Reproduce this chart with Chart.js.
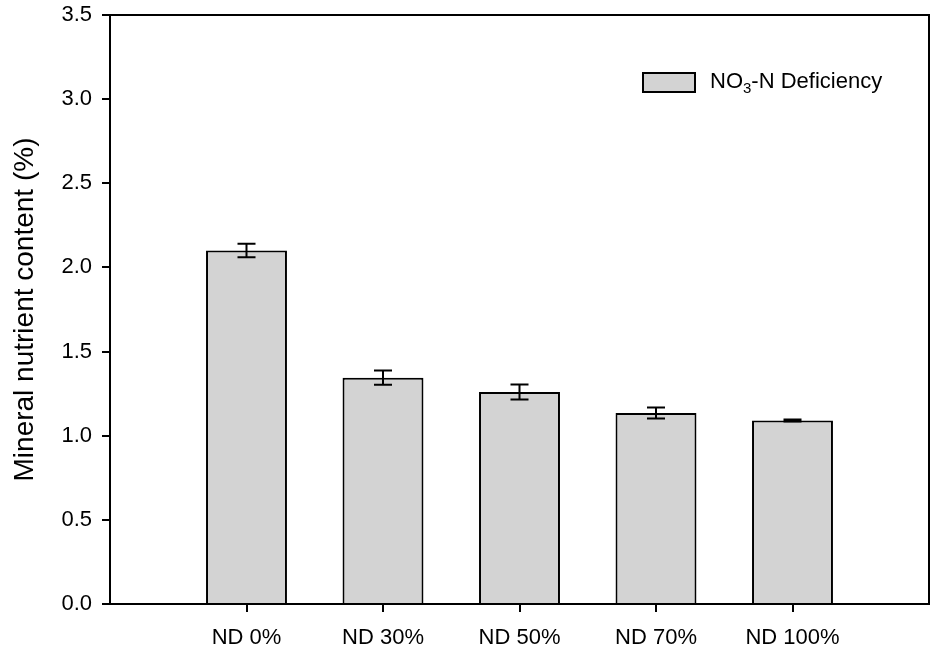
<!DOCTYPE html>
<html>
<head>
<meta charset="utf-8">
<script src="https://cdn.jsdelivr.net/npm/chart.js@4"></script>
<style>
  html, body { margin: 0; padding: 0; background: #fff; }
  #wrap { width: 941px; height: 658px; }
</style>
</head>
<body>
<div id="wrap"><canvas id="mainChart"></canvas></div>
<script>
/* ── Data ───────────────────────────────────────────────────────────────────── */
const CATEGORIES = ["ND 0%", "ND 30%", "ND 50%", "ND 70%", "ND 100%"];
const VALUES     = [2.10, 1.345, 1.26, 1.135, 1.09];
const ERRORS     = [0.04, 0.042, 0.045, 0.033, 0.006];
const Y_TICKS    = [0, 0.5, 1.0, 1.5, 2.0, 2.5, 3.0, 3.5];

const FONT = "'Liberation Sans', Arial, sans-serif";

/* ── Plugins ────────────────────────────────────────────────────────────────── */
const frameBox = {
  id: "frameBox",
  afterDraw(chart) {
    const { ctx, chartArea: a } = chart;
    ctx.save();
    ctx.strokeStyle = "#000";
    ctx.lineWidth = 2;
    ctx.beginPath();
    ctx.moveTo(a.left, a.top);
    ctx.lineTo(a.right, a.top);
    ctx.lineTo(a.right, a.bottom);
    ctx.stroke();
    ctx.restore();
  },
};

const errorBars = {
  id: "errorBars",
  afterDatasetsDraw(chart) {
    const { ctx, scales: { x, y } } = chart;
    ctx.save();
    ctx.strokeStyle = "#000";
    ctx.lineWidth = 2;
    VALUES.forEach((v, i) => {
      const px = x.getPixelForValue(i + 1);
      const top = y.getPixelForValue(v + ERRORS[i]);
      const bot = y.getPixelForValue(v - ERRORS[i]);
      ctx.beginPath();
      ctx.moveTo(px, top); ctx.lineTo(px, bot);
      ctx.moveTo(px - 9, top); ctx.lineTo(px + 9, top);
      ctx.moveTo(px - 9, bot); ctx.lineTo(px + 9, bot);
      ctx.stroke();
    });
    ctx.restore();
  },
};

// legend with a real subscript in NO3
const subLegend = {
  id: "subLegend",
  afterDraw(chart) {
    const { ctx, chartArea: a } = chart;
    const bx = a.right - 286, by = a.top + 58;
    ctx.save();
    ctx.fillStyle = "#d3d3d3";
    ctx.fillRect(bx, by, 52, 19);
    ctx.strokeStyle = "#000";
    ctx.lineWidth = 2;
    ctx.strokeRect(bx, by, 52, 19);

    ctx.fillStyle = "#000";
    ctx.textBaseline = "alphabetic";
    let tx = bx + 67;
    const base = by + 15;
    ctx.font = `22px ${FONT}`;
    ctx.fillText("NO", tx, base);
    tx += ctx.measureText("NO").width;
    ctx.font = `15px ${FONT}`;
    ctx.fillText("3", tx, base + 5);
    tx += ctx.measureText("3").width;
    ctx.font = `22px ${FONT}`;
    ctx.fillText("-N Deficiency", tx, base);
    ctx.restore();
  },
};

/* ── Chart ──────────────────────────────────────────────────────────────────── */
const ctx = document.getElementById("mainChart").getContext("2d");

new Chart(ctx, {
  type: "bar",
  data: {
    datasets: [{
      label: "NO3-N Deficiency",
      data: VALUES.map((v, i) => ({ x: i + 1, y: v })),
      backgroundColor: "#d3d3d3",
      borderColor: "#000",
      borderWidth: 2,
      borderSkipped: "bottom",
      categoryPercentage: 1,
      barPercentage: 0.593,
    }],
  },
  options: {
    responsive: true,
    maintainAspectRatio: false,
    animation: false,
    layout: { padding: { top: 15, right: 12, left: 0, bottom: 0 } },
    plugins: {
      legend: { display: false },
      tooltip: { enabled: false },
    },
    scales: {
      x: {
        type: "linear",
        min: 0,
        max: 6,
        offset: false,
        afterBuildTicks: (axis) => {
          axis.ticks = CATEGORIES.map((_, i) => ({ value: i + 1 }));
        },
        afterFit: (axis) => { axis.height = 54; },
        grid: { offset: false, drawOnChartArea: false, drawTicks: true, tickLength: 8, color: "#000", lineWidth: 2 },
        border: { color: "#000", width: 2 },
        ticks: {
          font: { family: FONT, size: 22 },
          color: "#000",
          padding: 13,
          maxRotation: 0,
          autoSkip: false,
          callback: (v) => CATEGORIES[v - 1] || "",
        },
      },
      y: {
        min: 0,
        max: 3.5,
        afterBuildTicks: (axis) => {
          axis.ticks = Y_TICKS.map((v) => ({ value: v }));
        },
        afterFit: (axis) => {
          axis.width = 110;
          axis.paddingTop = 0;
          axis.paddingBottom = 0;
        },
        grid: { drawOnChartArea: false, drawTicks: true, tickLength: 8, color: "#000", lineWidth: 2 },
        border: { color: "#000", width: 2 },
        ticks: {
          font: { family: FONT, size: 22 },
          color: "#000",
          padding: 10,
          callback: (v) => v.toFixed(1),
        },
        title: {
          display: true,
          text: "Mineral nutrient content (%)",
          font: { family: FONT, size: 28 },
          color: "#000",
          padding: { top: 8, bottom: 0 },
        },
      },
    },
  },
  plugins: [frameBox, errorBars, subLegend],
});
</script>
</body>
</html>
